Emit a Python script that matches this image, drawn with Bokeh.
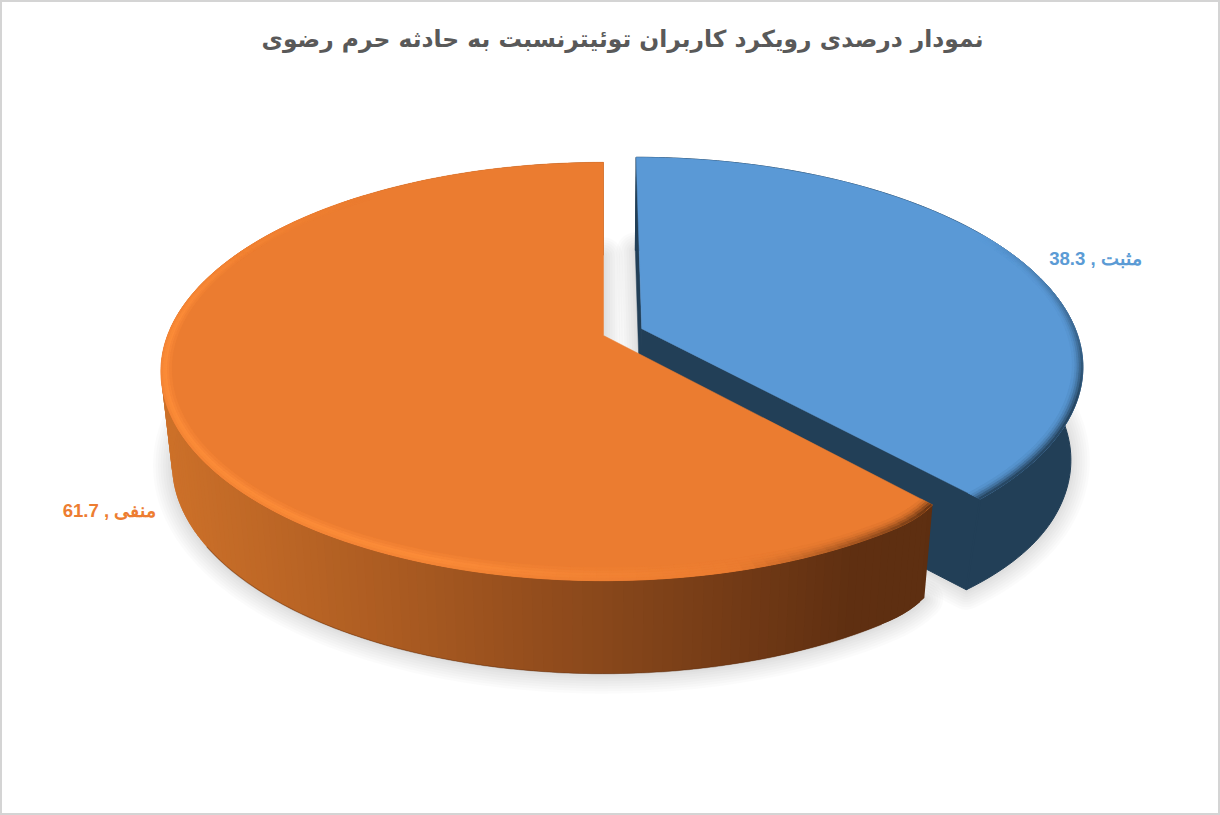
import math
from bokeh.plotting import figure
from bokeh.models import Range1d
from bokeh.core.properties import value
from bokeh.embed import file_html
from bokeh.resources import INLINE

# ---- data ----
categories = ["مثبت", "منفی"]
shares = [38.3, 61.7]
chart_title = "نمودار درصدی رویکرد کاربران توئیترنسبت به حادثه حرم رضوی"

# ---- projection of the tilted pie (reference pixel space) ----
CX, CY, BX, AY, K = 603.0, 335.0, 436.0, 203.0, 0.172
SX_LOW, DEPTH = 0.975, 93.0
EXPLODE = 0.0945


def proj(u, v, low=False):
    w = 1 + K * v
    x = BX * u / w
    y = -AY * v / w
    if low:
        return CX + x * SX_LOW, CY + y + DEPTH
    return CX + x, CY + y


def hexrgb(c):
    return [int(c[i:i + 2], 16) for i in (1, 3, 5)]


def mix(a, b, t):
    t = max(0.0, min(1.0, t))
    pa, pb = hexrgb(a), hexrgb(b)
    return "#%02x%02x%02x" % tuple(round(x + (y - x) * t) for x, y in zip(pa, pb))


def thetas(a, b, n):
    return [a + (b - a) * i / n for i in range(n + 1)]


def band_r(theta):
    s = math.sin(math.radians(theta)) ** 2
    return 10.0 / (225 + 211 * s)


p = figure(width=1220, height=815, output_backend="svg", toolbar_location=None,
           x_range=Range1d(0, 1220), y_range=Range1d(815, 0),
           min_border=0, background_fill_color="white", border_fill_color="white")
p.axis.visible = False
p.grid.visible = False
p.outline_line_color = "#d4d4d4"
p.outline_line_width = 3

# slice geometry from the values
total = sum(shares)
blue_end = 360.0 * shares[0] / total
mid = math.radians(blue_end / 2)
blue_c = (EXPLODE * math.sin(mid), EXPLODE * math.cos(mid))
org_c = (0.0, 0.0)


def corner_o(theta):
    """Rounded outer corner of the orange slice, next to its start edge."""
    d = (theta - blue_end) / 7.0
    return 1 - 0.016 * (1 - d) ** 2 if d < 1 else 1.0


def corner_b(theta):
    d = (blue_end - theta) / 22.0
    return 1 - 0.012 * (1 - d) ** 2 if d < 1 else 1.0


def pt(theta, r, c0, low=False):
    a = math.radians(theta)
    if c0 is org_c:
        r = r * corner_o(theta)
    elif low:
        r = r * corner_b(theta)
    return proj(c0[0] + r * math.sin(a), c0[1] + r * math.cos(a), low)


def wedge(a, b, c0, low=False, r=1.0):
    pts = [pt(t, r, c0, low) for t in thetas(a, b, 160)]
    apex = proj(c0[0], c0[1], low)
    return [apex[0]] + [q[0] for q in pts], [apex[1]] + [q[1] for q in pts]


TOP_B, SIDE_B = "#5a99d6", "#223f57"
TOP_O, HI_O, DARK_O = "#eb7c30", "#fb8b38", "#5c2e10"

# soft shadow
for t in (38, 33, 28, 23, 18, 13, 8, 4):
    for (a, b, c0) in ((0, blue_end, blue_c), (blue_end, 360, org_c)):
        xs, ys = wedge(a, b, c0, low=True)
        xs = xs + xs[:1]
        ys = [y + 1 for y in ys + ys[:1]]
        p.line(xs, ys, line_color="black", line_alpha=0.016, line_width=t, line_join="round")

# blue walls and side
x0, y0 = proj(*blue_c)
x1, y1 = proj(*blue_c, low=True)
tb = pt(0, 1, blue_c)
lb = pt(0, 1, blue_c, True)
p.patch([x0, tb[0], lb[0], x1], [y0, tb[1], lb[1], y1], fill_color=SIDE_B, line_color=SIDE_B, line_width=0.5)

arc_t = [pt(t, 1, blue_c) for t in thetas(0, blue_end, 120)]
arc_l = [pt(t, 1, blue_c, True) for t in thetas(0, blue_end, 120)]
poly = arc_t + arc_l[::-1]
p.patch([q[0] for q in poly], [q[1] for q in poly], fill_color=SIDE_B, line_color=SIDE_B, line_width=1)
te, le = arc_t[-1], arc_l[-1]
p.patch([x0, te[0], le[0], x1], [y0, te[1], le[1], y1], fill_color=SIDE_B, line_color=SIDE_B, line_width=1)
p.line([te[0], le[0]], [te[1], le[1]], line_color=SIDE_B, line_width=2)

# blue top
xs, ys = wedge(0, blue_end, blue_c)
p.patch(xs, ys, fill_color=TOP_B, line_color=TOP_B, line_width=0.5)

PROFILE_HI = [(1.0, 0.6), (0.8, 0.9), (0.6, 1.0), (0.4, 0.7), (0.2, 0.35)]
PROFILE_DK = [(1.0, 0.9), (0.8, 0.65), (0.6, 0.4), (0.4, 0.2), (0.2, 0.07)]


def ring(a, b, c0, top, weight, n=90):
    """Rim bevel: weight(theta) returns (colour, strength, profile)."""
    qx, qy, qc = [], [], []
    ts = thetas(a, b, n)
    for i in range(n):
        t1, t2 = ts[i], ts[i + 1]
        col, st, profile = weight((t1 + t2) / 2)
        if st <= 0:
            continue
        t2 = ts[min(i + 2, n)]
        for frac, amt in profile:
            o1 = 1 - band_r(t1) * (1 - frac)
            o2 = 1 - band_r(t2) * (1 - frac)
            i1 = 1 - band_r(t1) * (1.2 - frac)
            i2 = 1 - band_r(t2) * (1.2 - frac)
            q = [pt(t1, o1, c0), pt(t2, o2, c0), pt(t2, i2, c0), pt(t1, i1, c0)]
            qx.append([w[0] for w in q])
            qy.append([w[1] for w in q])
            qc.append(mix(top, col, amt * st))
    p.patches(qx, qy, fill_color=qc, line_color=qc, line_width=0.3)


def blue_weight(t):
    return SIDE_B, min(1.0, max(0.0, (t - 60) / 50.0)), PROFILE_DK


ring(0, blue_end, blue_c, TOP_B, blue_weight)

# orange side: stepped left-to-right shading


def side_col(x):
    stops = [(165, "#cc7029"), (400, "#a95a21"), (650, "#804219"), (850, "#5f2f11"), (1000, "#5c2e10")]
    for (xa, ca), (xb, cb) in zip(stops, stops[1:]):
        if x <= xb:
            return mix(ca, cb, (x - xa) / (xb - xa))
    return stops[-1][1]


sx, sy, sc = [], [], []
ts = thetas(blue_end, 360, 200)
for i in range(200):
    t1, t2 = ts[i], ts[min(i + 2, 200)]
    a1, a2 = pt(t1, 1, org_c), pt(t2, 1, org_c)
    l1, l2 = pt(t1, 1, org_c, True), pt(t2, 1, org_c, True)
    sx.append([a1[0], a2[0], l2[0], l1[0]])
    sy.append([a1[1], a2[1], l2[1], l1[1]])
    sc.append(side_col((a1[0] + a2[0]) / 2))
p.patches(sx, sy, fill_color=sc, line_color=None)

# darker thin lower edge of the orange side
edge = [pt(t, 1, org_c, True) for t in thetas(blue_end + 8, 238, 120)]
p.line([q[0] for q in edge], [q[1] for q in edge], line_color="#5c2e10", line_alpha=0.4, line_width=1.2)

# orange top
xs, ys = wedge(blue_end, 360, org_c)
p.patch(xs, ys, fill_color=TOP_O, line_color=TOP_O, line_width=0.5)


def orange_weight(t):
    if t < 165:
        return DARK_O, (165 - t) / 27.0, PROFILE_DK
    if t < 200:
        return HI_O, (t - 165) / 35.0, PROFILE_HI
    if t < 275:
        return HI_O, 1.0, PROFILE_HI
    return HI_O, max(0.0, (320 - t) / 45.0), PROFILE_HI


ring(blue_end, 360, org_c, TOP_O, orange_weight, n=150)

# texts
p.text([622], [38], text=[chart_title], text_font=value("DejaVu Sans"), text_font_style="bold",
       text_font_size="23.4px", text_color="#595959", text_align="center", text_baseline="middle")
p.text([1095], [258], text=["\u202b%s , %s\u202c" % (categories[0], shares[0])],
       text_font=value("Liberation Sans"), text_font_style="bold", text_font_size="18.6px",
       text_color="#5b9bd5", text_align="center", text_baseline="middle")
p.text([109], [510], text=["\u202b%s , %s\u202c" % (categories[1], shares[1])],
       text_font=value("Liberation Sans"), text_font_style="bold", text_font_size="18.6px",
       text_color="#ed7d31", text_align="center", text_baseline="middle")

open("out.html", "w").write(file_html(p, INLINE))
